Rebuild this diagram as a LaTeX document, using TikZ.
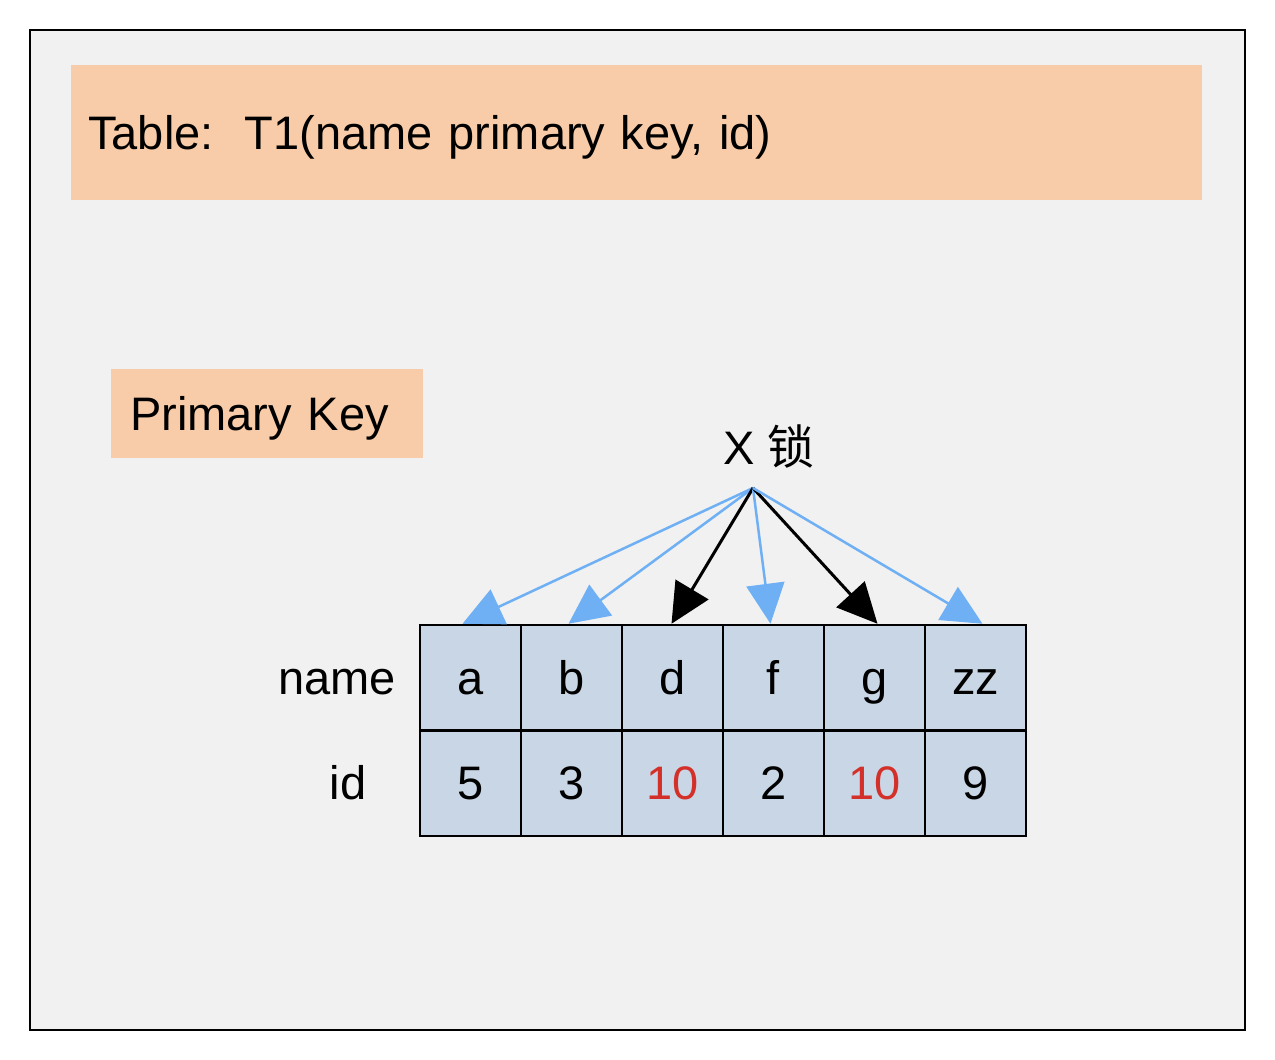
\documentclass[tikz,border=0pt]{standalone}
\usepackage{fontspec}
\setmainfont{Liberation Sans}
\newfontfamily\cjk{Noto Sans CJK SC}
\usetikzlibrary{arrows.meta}
\definecolor{framebg}{HTML}{F1F1F1}
\definecolor{peach}{HTML}{F8CCA8}
\definecolor{cellblue}{HTML}{C9D6E5}
\definecolor{arrowblue}{HTML}{6FB0F5}
\definecolor{keyred}{HTML}{D4302A}

\begin{document}
\begin{tikzpicture}[x=1pt, y=-1pt,
    every node/.style={font=\fontsize{47}{56}\selectfont, inner sep=0pt, text height=35pt, text depth=2pt},
    keybox/.style={fill=peach, align=left, anchor=north west},
    cell/.style={draw=black, line width=2.5pt, fill=cellblue, minimum width=101pt, minimum height=105.5pt},
    lock/.style={-{Triangle[length=40pt, width=38pt]}, line width=2.5pt}]
    \useasboundingbox (0,0) rectangle (1275,1060);
    \draw[fill=framebg, line width=2.5pt] (30,30) rectangle (1245,1030);

    \node[keybox, minimum width=1131pt, minimum height=135pt, text width=1097pt, inner xsep=17pt] (table) at (71,65) {Table:\ \ T1(name primary key, id)};
    \node[keybox, minimum width=312pt, minimum height=89pt, text width=274pt, inner xsep=19pt] (pk) at (111,369) {Primary Key};

    \node (xlock) at (769,448) {X {\cjk 锁}};
    \coordinate (src) at (753,488);

    % index rows
    \node (namelbl) at (337,677.75) {name};
    \node (idlbl) at (348,783.25) {id};
    \foreach \nm/\id [count=\i] in {a/5, b/3, d/\textcolor{keyred}{10}, f/2, g/\textcolor{keyred}{10}, zz/9} {
        \node[cell] (n\i) at (369.5+101*\i, 677.75) {\nm};
        \node[cell] (v\i) at (369.5+101*\i, 783.25) {\id};
    }

    \draw[lock, arrowblue] (src) -- ([xshift=-8pt]n1.north);
    \draw[lock, arrowblue] (src) -- ([xshift=-3pt]n2.north);
    \draw[lock, black, line width=3pt] (src) -- ([xshift=-1pt]n3.north);
    \draw[lock, arrowblue] (src) -- ([xshift=-3pt]n4.north);
    \draw[lock, black, line width=3pt] (src) -- ([xshift=3pt]n5.north);
    \draw[lock, arrowblue] (src) -- ([xshift=7pt]n6.north);
\end{tikzpicture}
\end{document}
